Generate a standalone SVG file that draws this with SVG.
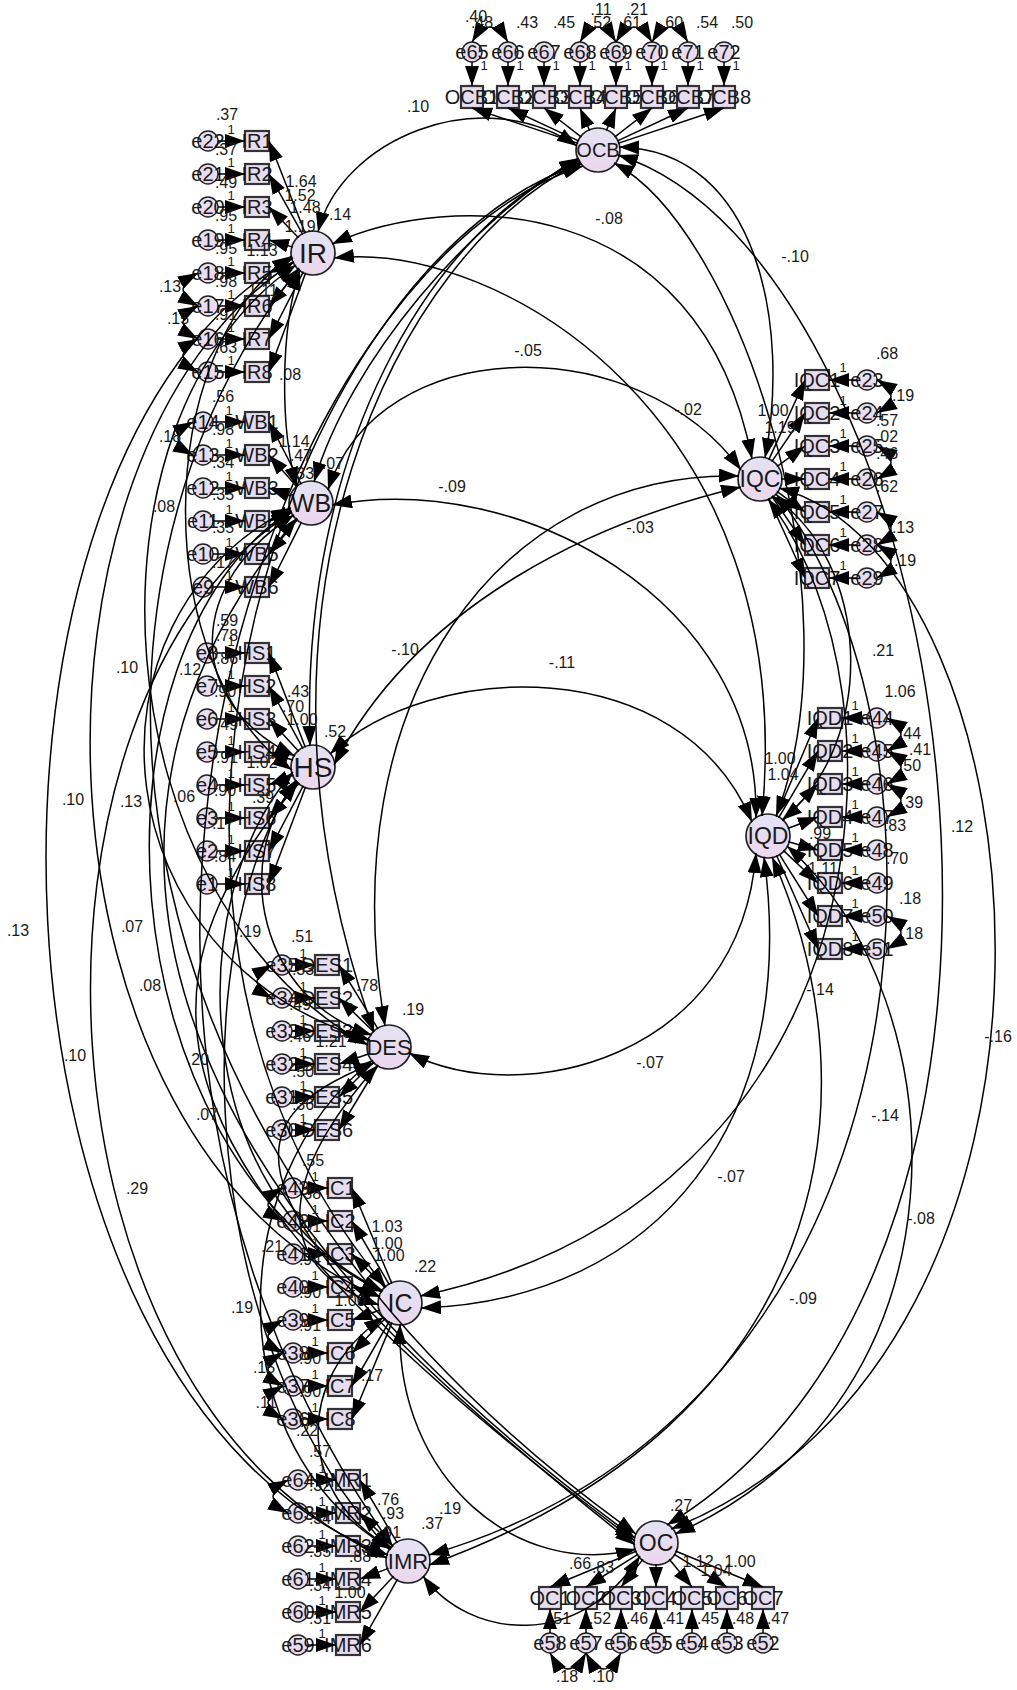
<svg xmlns="http://www.w3.org/2000/svg" width="1017" height="1690" viewBox="0 0 1017 1690">
<defs>
<linearGradient id="g" x1="0" y1="0" x2="0" y2="1"><stop offset="0" stop-color="#e3e3f3"/><stop offset="1" stop-color="#ecd6ee"/></linearGradient>
<marker id="ah" viewBox="0 0 20 14" refX="20" refY="7" markerWidth="20" markerHeight="14" markerUnits="userSpaceOnUse" orient="auto-start-reverse"><path d="M0,0L20,7L0,14z" fill="#000"/></marker>
</defs>
<style>
.lat{fill:url(#g);stroke:#222;stroke-width:1.7}
.err{fill:url(#g);stroke:#222;stroke-width:1.4}
.ind{fill:#e6dcf0;stroke:#333;stroke-width:2.2}
.c{fill:none;stroke:#000;stroke-width:1.5}
.a{marker-end:url(#ah)}
.d{marker-start:url(#ah);marker-end:url(#ah)}
text{font-family:"Liberation Sans",Arial,sans-serif;fill:#1a1a1a;text-anchor:middle}
.il{font-size:20px}
.n{font-size:16px}
.s{font-size:13px}
</style>
<rect width="1017" height="1690" fill="#fff"/>

<g id="nodes">
<g id="OCB"><circle class="lat" cx="598" cy="150" r="22"/><text x="598" y="157" font-size="20">OCB</text></g>
<g id="IR"><circle class="lat" cx="313" cy="253" r="22"/><text x="313" y="263" font-size="28">IR</text></g>
<g id="WB"><circle class="lat" cx="311" cy="503" r="22"/><text x="311" y="512" font-size="25">WB</text></g>
<g id="HS"><circle class="lat" cx="313" cy="767" r="22"/><text x="313" y="777" font-size="28">HS</text></g>
<g id="DES"><circle class="lat" cx="389" cy="1047" r="22"/><text x="389" y="1055" font-size="22">DES</text></g>
<g id="IC"><circle class="lat" cx="400" cy="1303" r="22"/><text x="400" y="1312" font-size="25">IC</text></g>
<g id="IMR"><circle class="lat" cx="408" cy="1561" r="22"/><text x="408" y="1569" font-size="22">IMR</text></g>
<g id="OC"><circle class="lat" cx="656" cy="1543" r="22"/><text x="656" y="1551" font-size="23">OC</text></g>
<g id="IQC"><circle class="lat" cx="760" cy="479" r="22"/><text x="760" y="487" font-size="23">IQC</text></g>
<g id="IQD"><circle class="lat" cx="768" cy="836" r="22"/><text x="768" y="844" font-size="23">IQD</text></g>

<g id="OCB1"><rect class="ind" x="461" y="86" width="22" height="22"/><text class="il" x="472" y="104">OCB1</text></g>
<g id="OCB2"><rect class="ind" x="497" y="86" width="22" height="22"/><text class="il" x="508" y="104">OCB2</text></g>
<g id="OCB3"><rect class="ind" x="533" y="86" width="22" height="22"/><text class="il" x="544" y="104">OCB3</text></g>
<g id="OCB4"><rect class="ind" x="569" y="86" width="22" height="22"/><text class="il" x="580" y="104">OCB4</text></g>
<g id="OCB5"><rect class="ind" x="605" y="86" width="22" height="22"/><text class="il" x="616" y="104">OCB5</text></g>
<g id="OCB6"><rect class="ind" x="641" y="86" width="22" height="22"/><text class="il" x="652" y="104">OCB6</text></g>
<g id="OCB7"><rect class="ind" x="677" y="86" width="22" height="22"/><text class="il" x="688" y="104">OCB7</text></g>
<g id="OCB8"><rect class="ind" x="713" y="86" width="22" height="22"/><text class="il" x="724" y="104">OCB8</text></g>
<g id="e65"><circle class="err" cx="472" cy="52" r="10"/><text class="il" x="472" y="59">e65</text></g>
<g id="e66"><circle class="err" cx="508" cy="52" r="10"/><text class="il" x="508" y="59">e66</text></g>
<g id="e67"><circle class="err" cx="544" cy="52" r="10"/><text class="il" x="544" y="59">e67</text></g>
<g id="e68"><circle class="err" cx="580" cy="52" r="10"/><text class="il" x="580" y="59">e68</text></g>
<g id="e69"><circle class="err" cx="616" cy="52" r="10"/><text class="il" x="616" y="59">e69</text></g>
<g id="e70"><circle class="err" cx="652" cy="52" r="10"/><text class="il" x="652" y="59">e70</text></g>
<g id="e71"><circle class="err" cx="688" cy="52" r="10"/><text class="il" x="688" y="59">e71</text></g>
<g id="e72"><circle class="err" cx="724" cy="52" r="10"/><text class="il" x="724" y="59">e72</text></g>

<g id="IR1"><rect class="ind" x="245" y="131" width="24" height="20"/><text class="il" x="257" y="148">IR1</text></g>
<g id="IR2"><rect class="ind" x="245" y="164" width="24" height="20"/><text class="il" x="257" y="181">IR2</text></g>
<g id="IR3"><rect class="ind" x="245" y="197" width="24" height="20"/><text class="il" x="257" y="214">IR3</text></g>
<g id="IR4"><rect class="ind" x="245" y="230" width="24" height="20"/><text class="il" x="257" y="247">IR4</text></g>
<g id="IR5"><rect class="ind" x="245" y="263" width="24" height="20"/><text class="il" x="257" y="280">IR5</text></g>
<g id="IR6"><rect class="ind" x="245" y="296" width="24" height="20"/><text class="il" x="257" y="313">IR6</text></g>
<g id="IR7"><rect class="ind" x="245" y="329" width="24" height="20"/><text class="il" x="257" y="346">IR7</text></g>
<g id="IR8"><rect class="ind" x="245" y="362" width="24" height="20"/><text class="il" x="257" y="379">IR8</text></g>
<g id="e22"><circle class="err" cx="208" cy="141" r="10"/><text class="il" x="208" y="148">e22</text></g>
<g id="e21"><circle class="err" cx="208" cy="174" r="10"/><text class="il" x="208" y="181">e21</text></g>
<g id="e20"><circle class="err" cx="208" cy="207" r="10"/><text class="il" x="208" y="214">e20</text></g>
<g id="e19"><circle class="err" cx="208" cy="240" r="10"/><text class="il" x="208" y="247">e19</text></g>
<g id="e18"><circle class="err" cx="208" cy="273" r="10"/><text class="il" x="208" y="280">e18</text></g>
<g id="e17"><circle class="err" cx="208" cy="306" r="10"/><text class="il" x="208" y="313">e17</text></g>
<g id="e16"><circle class="err" cx="208" cy="339" r="10"/><text class="il" x="208" y="346">e16</text></g>
<g id="e15"><circle class="err" cx="208" cy="372" r="10"/><text class="il" x="208" y="379">e15</text></g>

<g id="WB1"><rect class="ind" x="245" y="412" width="24" height="20"/><text class="il" x="257" y="429">WB1</text></g>
<g id="WB2"><rect class="ind" x="245" y="445" width="24" height="20"/><text class="il" x="257" y="462">WB2</text></g>
<g id="WB3"><rect class="ind" x="245" y="478" width="24" height="20"/><text class="il" x="257" y="495">WB3</text></g>
<g id="WB4"><rect class="ind" x="245" y="511" width="24" height="20"/><text class="il" x="257" y="528">WB4</text></g>
<g id="WB5"><rect class="ind" x="245" y="544" width="24" height="20"/><text class="il" x="257" y="561">WB5</text></g>
<g id="WB6"><rect class="ind" x="245" y="577" width="24" height="20"/><text class="il" x="257" y="594">WB6</text></g>
<g id="e14"><circle class="err" cx="203" cy="422" r="10"/><text class="il" x="203" y="429">e14</text></g>
<g id="e13"><circle class="err" cx="203" cy="455" r="10"/><text class="il" x="203" y="462">e13</text></g>
<g id="e12"><circle class="err" cx="203" cy="488" r="10"/><text class="il" x="203" y="495">e12</text></g>
<g id="e11"><circle class="err" cx="203" cy="521" r="10"/><text class="il" x="203" y="528">e11</text></g>
<g id="e10"><circle class="err" cx="203" cy="554" r="10"/><text class="il" x="203" y="561">e10</text></g>
<g id="e9"><circle class="err" cx="203" cy="587" r="10"/><text class="il" x="203" y="594">e9</text></g>

<g id="HS1"><rect class="ind" x="245" y="643" width="24" height="20"/><text class="il" x="257" y="660">HS1</text></g>
<g id="HS2"><rect class="ind" x="245" y="676" width="24" height="20"/><text class="il" x="257" y="693">HS2</text></g>
<g id="HS3"><rect class="ind" x="245" y="709" width="24" height="20"/><text class="il" x="257" y="726">HS3</text></g>
<g id="HS4"><rect class="ind" x="245" y="742" width="24" height="20"/><text class="il" x="257" y="759">HS4</text></g>
<g id="HS5"><rect class="ind" x="245" y="775" width="24" height="20"/><text class="il" x="257" y="792">HS5</text></g>
<g id="HS6"><rect class="ind" x="245" y="808" width="24" height="20"/><text class="il" x="257" y="825">HS6</text></g>
<g id="HS7"><rect class="ind" x="245" y="841" width="24" height="20"/><text class="il" x="257" y="858">HS7</text></g>
<g id="HS8"><rect class="ind" x="245" y="874" width="24" height="20"/><text class="il" x="257" y="891">HS8</text></g>
<g id="e8"><circle class="err" cx="207" cy="653" r="10"/><text class="il" x="207" y="660">e8</text></g>
<g id="e7"><circle class="err" cx="207" cy="686" r="10"/><text class="il" x="207" y="693">e7</text></g>
<g id="e6"><circle class="err" cx="207" cy="719" r="10"/><text class="il" x="207" y="726">e6</text></g>
<g id="e5"><circle class="err" cx="207" cy="752" r="10"/><text class="il" x="207" y="759">e5</text></g>
<g id="e4"><circle class="err" cx="207" cy="785" r="10"/><text class="il" x="207" y="792">e4</text></g>
<g id="e3"><circle class="err" cx="207" cy="818" r="10"/><text class="il" x="207" y="825">e3</text></g>
<g id="e2"><circle class="err" cx="207" cy="851" r="10"/><text class="il" x="207" y="858">e2</text></g>
<g id="e1"><circle class="err" cx="207" cy="884" r="10"/><text class="il" x="207" y="891">e1</text></g>

<g id="DES1"><rect class="ind" x="315" y="955" width="24" height="20"/><text class="il" x="327" y="972">DES1</text></g>
<g id="DES2"><rect class="ind" x="315" y="988" width="24" height="20"/><text class="il" x="327" y="1005">DES2</text></g>
<g id="DES3"><rect class="ind" x="315" y="1021" width="24" height="20"/><text class="il" x="327" y="1038">DES3</text></g>
<g id="DES4"><rect class="ind" x="315" y="1054" width="24" height="20"/><text class="il" x="327" y="1071">DES4</text></g>
<g id="DES5"><rect class="ind" x="315" y="1087" width="24" height="20"/><text class="il" x="327" y="1104">DES5</text></g>
<g id="DES6"><rect class="ind" x="315" y="1120" width="24" height="20"/><text class="il" x="327" y="1137">DES6</text></g>
<g id="e35"><circle class="err" cx="282" cy="965" r="10"/><text class="il" x="282" y="972">e35</text></g>
<g id="e34"><circle class="err" cx="282" cy="998" r="10"/><text class="il" x="282" y="1005">e34</text></g>
<g id="e33"><circle class="err" cx="282" cy="1031" r="10"/><text class="il" x="282" y="1038">e33</text></g>
<g id="e32"><circle class="err" cx="282" cy="1064" r="10"/><text class="il" x="282" y="1071">e32</text></g>
<g id="e31"><circle class="err" cx="282" cy="1097" r="10"/><text class="il" x="282" y="1104">e31</text></g>
<g id="e30"><circle class="err" cx="282" cy="1130" r="10"/><text class="il" x="282" y="1137">e30</text></g>

<g id="IC1"><rect class="ind" x="328" y="1178" width="24" height="20"/><text class="il" x="340" y="1195">IC1</text></g>
<g id="IC2"><rect class="ind" x="328" y="1211" width="24" height="20"/><text class="il" x="340" y="1228">IC2</text></g>
<g id="IC3"><rect class="ind" x="328" y="1244" width="24" height="20"/><text class="il" x="340" y="1261">IC3</text></g>
<g id="IC4"><rect class="ind" x="328" y="1277" width="24" height="20"/><text class="il" x="340" y="1294">IC4</text></g>
<g id="IC5"><rect class="ind" x="328" y="1310" width="24" height="20"/><text class="il" x="340" y="1327">IC5</text></g>
<g id="IC6"><rect class="ind" x="328" y="1343" width="24" height="20"/><text class="il" x="340" y="1360">IC6</text></g>
<g id="IC7"><rect class="ind" x="328" y="1376" width="24" height="20"/><text class="il" x="340" y="1393">IC7</text></g>
<g id="IC8"><rect class="ind" x="328" y="1409" width="24" height="20"/><text class="il" x="340" y="1426">IC8</text></g>
<g id="e43"><circle class="err" cx="293" cy="1188" r="10"/><text class="il" x="293" y="1195">e43</text></g>
<g id="e42"><circle class="err" cx="293" cy="1221" r="10"/><text class="il" x="293" y="1228">e42</text></g>
<g id="e41"><circle class="err" cx="293" cy="1254" r="10"/><text class="il" x="293" y="1261">e41</text></g>
<g id="e40"><circle class="err" cx="293" cy="1287" r="10"/><text class="il" x="293" y="1294">e40</text></g>
<g id="e39"><circle class="err" cx="293" cy="1320" r="10"/><text class="il" x="293" y="1327">e39</text></g>
<g id="e38"><circle class="err" cx="293" cy="1353" r="10"/><text class="il" x="293" y="1360">e38</text></g>
<g id="e37"><circle class="err" cx="293" cy="1386" r="10"/><text class="il" x="293" y="1393">e37</text></g>
<g id="e36"><circle class="err" cx="293" cy="1419" r="10"/><text class="il" x="293" y="1426">e36</text></g>

<g id="IMR1"><rect class="ind" x="336" y="1470" width="24" height="20"/><text class="il" x="348" y="1487">IMR1</text></g>
<g id="IMR2"><rect class="ind" x="336" y="1503" width="24" height="20"/><text class="il" x="348" y="1520">IMR2</text></g>
<g id="IMR3"><rect class="ind" x="336" y="1536" width="24" height="20"/><text class="il" x="348" y="1553">IMR3</text></g>
<g id="IMR4"><rect class="ind" x="336" y="1569" width="24" height="20"/><text class="il" x="348" y="1586">IMR4</text></g>
<g id="IMR5"><rect class="ind" x="336" y="1602" width="24" height="20"/><text class="il" x="348" y="1619">IMR5</text></g>
<g id="IMR6"><rect class="ind" x="336" y="1635" width="24" height="20"/><text class="il" x="348" y="1652">IMR6</text></g>
<g id="e64"><circle class="err" cx="298" cy="1480" r="10"/><text class="il" x="298" y="1487">e64</text></g>
<g id="e63"><circle class="err" cx="298" cy="1513" r="10"/><text class="il" x="298" y="1520">e63</text></g>
<g id="e62"><circle class="err" cx="298" cy="1546" r="10"/><text class="il" x="298" y="1553">e62</text></g>
<g id="e61"><circle class="err" cx="298" cy="1579" r="10"/><text class="il" x="298" y="1586">e61</text></g>
<g id="e60"><circle class="err" cx="298" cy="1612" r="10"/><text class="il" x="298" y="1619">e60</text></g>
<g id="e59"><circle class="err" cx="298" cy="1645" r="10"/><text class="il" x="298" y="1652">e59</text></g>

<g id="IQC1"><rect class="ind" x="805" y="370" width="24" height="20"/><text class="il" x="817" y="387">IQC1</text></g>
<g id="IQC2"><rect class="ind" x="805" y="403" width="24" height="20"/><text class="il" x="817" y="420">IQC2</text></g>
<g id="IQC3"><rect class="ind" x="805" y="436" width="24" height="20"/><text class="il" x="817" y="453">IQC3</text></g>
<g id="IQC4"><rect class="ind" x="805" y="469" width="24" height="20"/><text class="il" x="817" y="486">IQC4</text></g>
<g id="IQC5"><rect class="ind" x="805" y="502" width="24" height="20"/><text class="il" x="817" y="519">IQC5</text></g>
<g id="IQC6"><rect class="ind" x="805" y="535" width="24" height="20"/><text class="il" x="817" y="552">IQC6</text></g>
<g id="IQC7"><rect class="ind" x="805" y="568" width="24" height="20"/><text class="il" x="817" y="585">IQC7</text></g>
<g id="e23"><circle class="err" cx="867" cy="380" r="10"/><text class="il" x="867" y="387">e23</text></g>
<g id="e24"><circle class="err" cx="867" cy="413" r="10"/><text class="il" x="867" y="420">e24</text></g>
<g id="e25"><circle class="err" cx="867" cy="446" r="10"/><text class="il" x="867" y="453">e25</text></g>
<g id="e26"><circle class="err" cx="867" cy="479" r="10"/><text class="il" x="867" y="486">e26</text></g>
<g id="e27"><circle class="err" cx="867" cy="512" r="10"/><text class="il" x="867" y="519">e27</text></g>
<g id="e28"><circle class="err" cx="867" cy="545" r="10"/><text class="il" x="867" y="552">e28</text></g>
<g id="e29"><circle class="err" cx="867" cy="578" r="10"/><text class="il" x="867" y="585">e29</text></g>

<g id="IQD1"><rect class="ind" x="818" y="708" width="24" height="20"/><text class="il" x="830" y="725">IQD1</text></g>
<g id="IQD2"><rect class="ind" x="818" y="741" width="24" height="20"/><text class="il" x="830" y="758">IQD2</text></g>
<g id="IQD3"><rect class="ind" x="818" y="774" width="24" height="20"/><text class="il" x="830" y="791">IQD3</text></g>
<g id="IQD4"><rect class="ind" x="818" y="807" width="24" height="20"/><text class="il" x="830" y="824">IQD4</text></g>
<g id="IQD5"><rect class="ind" x="818" y="840" width="24" height="20"/><text class="il" x="830" y="857">IQD5</text></g>
<g id="IQD6"><rect class="ind" x="818" y="873" width="24" height="20"/><text class="il" x="830" y="890">IQD6</text></g>
<g id="IQD7"><rect class="ind" x="818" y="906" width="24" height="20"/><text class="il" x="830" y="923">IQD7</text></g>
<g id="IQD8"><rect class="ind" x="818" y="939" width="24" height="20"/><text class="il" x="830" y="956">IQD8</text></g>
<g id="e44"><circle class="err" cx="877" cy="718" r="10"/><text class="il" x="877" y="725">e44</text></g>
<g id="e45"><circle class="err" cx="877" cy="751" r="10"/><text class="il" x="877" y="758">e45</text></g>
<g id="e46"><circle class="err" cx="877" cy="784" r="10"/><text class="il" x="877" y="791">e46</text></g>
<g id="e47"><circle class="err" cx="877" cy="817" r="10"/><text class="il" x="877" y="824">e47</text></g>
<g id="e48"><circle class="err" cx="877" cy="850" r="10"/><text class="il" x="877" y="857">e48</text></g>
<g id="e49"><circle class="err" cx="877" cy="883" r="10"/><text class="il" x="877" y="890">e49</text></g>
<g id="e50"><circle class="err" cx="877" cy="916" r="10"/><text class="il" x="877" y="923">e50</text></g>
<g id="e51"><circle class="err" cx="877" cy="949" r="10"/><text class="il" x="877" y="956">e51</text></g>

<g id="OC1"><rect class="ind" x="539" y="1587" width="22" height="22"/><text class="il" x="550" y="1605">OC1</text></g>
<g id="OC2"><rect class="ind" x="575" y="1587" width="22" height="22"/><text class="il" x="586" y="1605">OC2</text></g>
<g id="OC3"><rect class="ind" x="610" y="1587" width="22" height="22"/><text class="il" x="621" y="1605">OC3</text></g>
<g id="OC4"><rect class="ind" x="645" y="1587" width="22" height="22"/><text class="il" x="656" y="1605">OC4</text></g>
<g id="OC5"><rect class="ind" x="681" y="1587" width="22" height="22"/><text class="il" x="692" y="1605">OC5</text></g>
<g id="OC6"><rect class="ind" x="716" y="1587" width="22" height="22"/><text class="il" x="727" y="1605">OC6</text></g>
<g id="OC7"><rect class="ind" x="752" y="1587" width="22" height="22"/><text class="il" x="763" y="1605">OC7</text></g>
<g id="e58"><circle class="err" cx="550" cy="1643" r="10"/><text class="il" x="550" y="1650">e58</text></g>
<g id="e57"><circle class="err" cx="586" cy="1643" r="10"/><text class="il" x="586" y="1650">e57</text></g>
<g id="e56"><circle class="err" cx="621" cy="1643" r="10"/><text class="il" x="621" y="1650">e56</text></g>
<g id="e55"><circle class="err" cx="656" cy="1643" r="10"/><text class="il" x="656" y="1650">e55</text></g>
<g id="e54"><circle class="err" cx="692" cy="1643" r="10"/><text class="il" x="692" y="1650">e54</text></g>
<g id="e53"><circle class="err" cx="727" cy="1643" r="10"/><text class="il" x="727" y="1650">e53</text></g>
<g id="e52"><circle class="err" cx="763" cy="1643" r="10"/><text class="il" x="763" y="1650">e52</text></g>
</g>

<g id="connectors" class="c">
<g class="a">
<path d="M472,62V86"/><path d="M508,62V86"/><path d="M544,62V86"/><path d="M580,62V86"/><path d="M616,62V86"/><path d="M652,62V86"/><path d="M688,62V86"/><path d="M724,62V86"/>
<path d="M218,141H245"/><path d="M218,174H245"/><path d="M218,207H245"/><path d="M218,240H245"/><path d="M218,273H245"/><path d="M218,306H245"/><path d="M218,339H245"/><path d="M218,372H245"/>
<path d="M213,422H245"/><path d="M213,455H245"/><path d="M213,488H245"/><path d="M213,521H245"/><path d="M213,554H245"/><path d="M213,587H245"/>
<path d="M217,653H245"/><path d="M217,686H245"/><path d="M217,719H245"/><path d="M217,752H245"/><path d="M217,785H245"/><path d="M217,818H245"/><path d="M217,851H245"/><path d="M217,884H245"/>
<path d="M292,965H315"/><path d="M292,998H315"/><path d="M292,1031H315"/><path d="M292,1064H315"/><path d="M292,1097H315"/><path d="M292,1130H315"/>
<path d="M303,1188H328"/><path d="M303,1221H328"/><path d="M303,1254H328"/><path d="M303,1287H328"/><path d="M303,1320H328"/><path d="M303,1353H328"/><path d="M303,1386H328"/><path d="M303,1419H328"/>
<path d="M308,1480H336"/><path d="M308,1513H336"/><path d="M308,1546H336"/><path d="M308,1579H336"/><path d="M308,1612H336"/><path d="M308,1645H336"/>
<path d="M857,380H829"/><path d="M857,413H829"/><path d="M857,446H829"/><path d="M857,479H829"/><path d="M857,512H829"/><path d="M857,545H829"/><path d="M857,578H829"/>
<path d="M867,718H842"/><path d="M867,751H842"/><path d="M867,784H842"/><path d="M867,817H842"/><path d="M867,850H842"/><path d="M867,883H842"/><path d="M867,916H842"/><path d="M867,949H842"/>
<path d="M550,1633V1609"/><path d="M586,1633V1609"/><path d="M621,1633V1609"/><path d="M656,1633V1609"/><path d="M692,1633V1609"/><path d="M727,1633V1609"/><path d="M763,1633V1609"/>
<path d="M578.1,143.4L472,108"/><path d="M579,141.1L508,108"/><path d="M581.4,137.1L544,108"/><path d="M589.7,130.7L580,108"/><path d="M606.3,130.7L616,108"/><path d="M614.6,137.1L652,108"/><path d="M617,141.1L688,108"/><path d="M617.9,143.4L724,108"/>
<path d="M305.3,233.4L269,141"/><path d="M302.8,234.6L269,174"/><path d="M298.5,237.8L269,207"/><path d="M292.9,247.1L269,240"/><path d="M293.9,261.7L269,273"/><path d="M299.6,269.2L269,306"/><path d="M303.4,271.7L269,339"/><path d="M305.7,272.7L269,372"/>
<path d="M301.3,484.3L269,422"/><path d="M297.2,487.2L269,455"/><path d="M291.2,495.9L269,488"/><path d="M291.7,511.3L269,521"/><path d="M297.7,519.2L269,554"/><path d="M301.6,521.8L269,587"/>
<path d="M305.4,747.4L269,653"/><path d="M303,748.6L269,686"/><path d="M298.8,751.5L269,719"/><path d="M293.1,760.2L269,752"/><path d="M293.5,775L269,785"/><path d="M299.3,782.9L269,818"/><path d="M303.3,785.6L269,851"/><path d="M305.6,786.7L269,884"/>
<path d="M378.1,1029.1L339,965"/><path d="M374,1032.3L339,998"/><path d="M369,1040.6L339,1031"/><path d="M369.1,1053.8L339,1064"/><path d="M374.2,1061.8L339,1097"/><path d="M378.2,1065L339,1130"/>
<path d="M391.9,1283.6L352,1188"/><path d="M389.4,1284.9L352,1221"/><path d="M385.3,1288L352,1254"/><path d="M380.1,1296.4L352,1287"/><path d="M380.2,1310L352,1320"/><path d="M385.5,1318.2L352,1353"/><path d="M389.5,1321.2L352,1386"/><path d="M392,1322.4L352,1419"/>
<path d="M397.3,1542.9L360,1480"/><path d="M393.2,1546.2L360,1513"/><path d="M388,1554.7L360,1546"/><path d="M388.4,1568.4L360,1579"/><path d="M393.6,1576.3L360,1612"/><path d="M397.6,1579.2L360,1645"/>
<path d="M768.7,459.9L805,380"/><path d="M771.8,461.7L805,413"/><path d="M776.9,466.6L805,446"/><path d="M781,479L805,479"/><path d="M776.9,491.4L805,512"/><path d="M771.8,496.3L805,545"/><path d="M768.7,498.1L805,578"/>
<path d="M776.2,816.7L818,718"/><path d="M778.6,817.9L818,751"/><path d="M782.6,820.9L818,784"/><path d="M787.6,828.5L818,817"/><path d="M788.2,841.7L818,850"/><path d="M783.3,850.4L818,883"/><path d="M779.1,853.8L818,916"/><path d="M776.5,855.2L818,949"/>
<path d="M636.6,1551L550,1587"/><path d="M638.2,1554.2L586,1587"/><path d="M642.9,1559.4L621,1587"/><path d="M656,1564L656,1587"/><path d="M669.3,1559.3L692,1587"/><path d="M673.9,1554.1L727,1587"/><path d="M675.4,1551L763,1587"/>
</g>
<g class="d">
<path d="M472,42Q490,12 508,42"/>
<path d="M580,42Q598,12 616,42"/>
<path d="M616,42Q634,12 652,42"/>
<path d="M652,42Q670,12 688,42"/>
<path d="M550,1653Q568,1685 586,1653"/>
<path d="M586,1653Q603,1685 621,1653"/>
<path d="M877,380Q905,396.5 877,413"/>
<path d="M877,446Q905,462.5 877,479"/>
<path d="M877,512Q905,528.5 877,545"/>
<path d="M877,545Q905,561.5 877,578"/>
<path d="M887,718Q915,734.5 887,751"/>
<path d="M887,751Q915,767.5 887,784"/>
<path d="M887,784Q915,800.5 887,817"/>
<path d="M887,916Q915,932.5 887,949"/>
<path d="M198,273Q168,289.5 198,306"/>
<path d="M198,306Q168,322.5 198,339"/>
<path d="M198,339Q168,355.5 198,372"/>
<path d="M193,422Q163,438.5 193,455"/>
<path d="M272,965Q242,981.5 272,998"/>
<path d="M283,1188Q253,1204.5 283,1221"/>
<path d="M283,1320Q253,1336.5 283,1353"/>
<path d="M283,1353Q253,1369.5 283,1386"/>
<path d="M283,1386Q253,1402.5 283,1419"/>
<path d="M288,1480Q258,1496.5 288,1513"/>
<path d="M577,146C480,80 340,140 318,232"/>
<path d="M332,244C450,190 700,190 752,459"/>
<path d="M334,258C500,240 800,420 762,816"/>
<path d="M619,147C760,150 790,330 765,458"/>
<path d="M614,163C740,230 860,600 776,816"/>
<path d="M618,155C950,260 1120,1250 667,1525"/>
<path d="M779,488C1050,560 1120,1350 671,1529"/>
<path d="M772,496C870,560 880,740 782,820"/>
<path d="M787,846C960,1000 980,1400 675,1534"/>
<path d="M776,494C960,720 960,1400 429,1555"/>
<path d="M772,857C880,1100 830,1420 429,1565"/>
<path d="M768,499C920,700 880,1200 420,1296"/>
<path d="M756,853C740,1060 520,1110 409,1053"/>
<path d="M764,857C800,1120 660,1300 421,1308"/>
<path d="M328,490C380,330 640,330 741,470"/>
<path d="M332,505C520,470 760,600 756,818"/>
<path d="M334,765C420,600 600,520 741,487"/>
<path d="M385,1026C330,700 500,470 739,476"/>
<path d="M330,754C430,660 680,650 752,822"/>
<path d="M300,270C280,330 280,430 297,487"/>
<path d="M292,256C150,350 150,670 292,770"/>
<path d="M296,265C70,420 100,900 368,1045"/>
<path d="M294,262C0,450 20,1150 380,1297"/>
<path d="M293,258C-60,450 -40,1400 388,1555"/>
<path d="M294,515C190,580 180,700 295,756"/>
<path d="M291,508C70,620 100,960 370,1040"/>
<path d="M291,510C80,650 100,1150 382,1292"/>
<path d="M292,512C0,700 20,1400 387,1558"/>
<path d="M297,781C230,860 260,1000 372,1035"/>
<path d="M293,772C180,900 190,1200 383,1291"/>
<path d="M296,780C180,950 200,1350 390,1550"/>
<path d="M378,1065C300,1150 250,1260 379,1305"/>
<path d="M373,1060C220,1180 220,1450 391,1549"/>
<path d="M384,1317C290,1380 300,1500 392,1548"/>
<path d="M579,158C470,220 350,360 314,482"/>
<path d="M580,160C430,230 300,450 310,746"/>
<path d="M581,162C400,250 220,600 374,1032"/>
<path d="M582,164C300,250 60,900 386,1287"/>
<path d="M583,166C280,260 0,1000 393,1547"/>
<path d="M636,1534C100,1150 40,600 299,268"/>
<path d="M635,1538C120,1160 60,800 297,518"/>
<path d="M635,1541C140,1170 120,1000 298,782"/>
<path d="M635,1545C200,1200 230,1120 374,1063"/>
<path d="M636,1549C520,1580 395,1480 400,1324"/>
<path d="M640,1556C580,1650 470,1640 423,1576"/>
</g>
</g>

<g id="labels">
<g class="s">
<text x="484" y="70">1</text><text x="520" y="70">1</text><text x="556" y="70">1</text><text x="592" y="70">1</text><text x="628" y="70">1</text><text x="664" y="70">1</text><text x="700" y="70">1</text><text x="736" y="70">1</text>
<text x="231" y="134">1</text><text x="231" y="167">1</text><text x="231" y="200">1</text><text x="231" y="233">1</text><text x="231" y="266">1</text><text x="231" y="299">1</text><text x="231" y="332">1</text><text x="231" y="365">1</text>
<text x="229" y="415">1</text><text x="229" y="448">1</text><text x="229" y="481">1</text><text x="229" y="514">1</text><text x="229" y="547">1</text><text x="229" y="580">1</text>
<text x="231" y="646">1</text><text x="231" y="679">1</text><text x="231" y="712">1</text><text x="231" y="745">1</text><text x="231" y="778">1</text><text x="231" y="811">1</text><text x="231" y="844">1</text><text x="231" y="877">1</text>
<text x="303" y="958">1</text><text x="303" y="991">1</text><text x="303" y="1024">1</text><text x="303" y="1057">1</text><text x="303" y="1090">1</text><text x="303" y="1123">1</text>
<text x="315" y="1181">1</text><text x="315" y="1214">1</text><text x="315" y="1247">1</text><text x="315" y="1280">1</text><text x="315" y="1313">1</text><text x="315" y="1346">1</text><text x="315" y="1379">1</text><text x="315" y="1412">1</text>
<text x="322" y="1473">1</text><text x="322" y="1506">1</text><text x="322" y="1539">1</text><text x="322" y="1572">1</text><text x="322" y="1605">1</text><text x="322" y="1638">1</text>
<text x="843" y="372">1</text><text x="843" y="405">1</text><text x="843" y="438">1</text><text x="843" y="471">1</text><text x="843" y="504">1</text><text x="843" y="537">1</text><text x="843" y="570">1</text>
<text x="855" y="710">1</text><text x="855" y="743">1</text><text x="855" y="776">1</text><text x="855" y="809">1</text><text x="855" y="842">1</text><text x="855" y="875">1</text><text x="855" y="908">1</text><text x="855" y="941">1</text>
</g>
<g class="n">
<text x="418" y="112">.10</text>
<text x="609" y="224">-.08</text>
<text x="688" y="415">-.02</text>
<text x="795" y="262">-.10</text>
<text x="883" y="656">.21</text>
<text x="962" y="832">.12</text>
<text x="998" y="1042">-.16</text>
<text x="921" y="1224">-.08</text>
<text x="820" y="995">-.14</text>
<text x="885" y="1121">-.14</text>
<text x="803" y="1304">-.09</text>
<text x="731" y="1182">-.07</text>
<text x="650" y="1068">-.07</text>
<text x="528" y="356">-.05</text>
<text x="452" y="492">-.09</text>
<text x="640" y="533">-.03</text>
<text x="405" y="655">-.10</text>
<text x="562" y="668">-.11</text>
<text x="290" y="380">.08</text>
<text x="164" y="512">.08</text>
<text x="127" y="673">.10</text>
<text x="73" y="805">.10</text>
<text x="18" y="936">.13</text>
<text x="190" y="675">.12</text>
<text x="131" y="807">.13</text>
<text x="132" y="932">.07</text>
<text x="75" y="1061">.10</text>
<text x="250" y="937">.19</text>
<text x="198" y="1065">.20</text>
<text x="207" y="1120">.07</text>
<text x="272" y="1252">.21</text>
<text x="242" y="1313">.19</text>
<text x="307" y="1436">.22</text>
<text x="150" y="991">.08</text>
<text x="137" y="1194">.29</text>
<text x="184" y="802">.06</text>
<text x="340" y="220">.14</text>
<text x="333" y="469">.07</text>
<text x="335" y="737">.52</text>
<text x="413" y="1015">.19</text>
<text x="425" y="1272">.22</text>
<text x="432" y="1529">.37</text>
<text x="450" y="1514">.19</text>
<text x="681" y="1511">.27</text>
<text x="476" y="22">.40</text><text x="482" y="28">.48</text><text x="527" y="28">.43</text><text x="564" y="28">.45</text><text x="600" y="28">.52</text><text x="601" y="15">.11</text><text x="637" y="15">.21</text><text x="630" y="28">.61</text><text x="672" y="28">.60</text><text x="707" y="28">.54</text><text x="742" y="28">.50</text>
<text x="227" y="120">.37</text><text x="226" y="155">.37</text><text x="226" y="188">.49</text><text x="226" y="221">.95</text><text x="226" y="254">.95</text><text x="226" y="287">.98</text><text x="226" y="320">.91</text><text x="226" y="353">.63</text>
<text x="170" y="292">.13</text><text x="178" y="324">.15</text>
<text x="223" y="402">.56</text><text x="223" y="435">.98</text><text x="223" y="468">.34</text><text x="223" y="500">.35</text><text x="223" y="533">.35</text><text x="223" y="568">.17</text>
<text x="170" y="442">.18</text>
<text x="227" y="626">.59</text><text x="227" y="641">.78</text><text x="227" y="664">.86</text><text x="225" y="697">.90</text><text x="227" y="730">.49</text><text x="227" y="763">.91</text><text x="225" y="796">.90</text><text x="223" y="829">.17</text><text x="225" y="862">.84</text>
<text x="302" y="942">.51</text><text x="303" y="975">.33</text><text x="300" y="1010">.49</text><text x="300" y="1042">.46</text><text x="303" y="1077">.50</text><text x="303" y="1110">.36</text>
<text x="313" y="1166">.55</text><text x="310" y="1199">.38</text><text x="310" y="1232">.91</text><text x="310" y="1265">.94</text><text x="310" y="1298">.90</text><text x="310" y="1331">.91</text><text x="310" y="1364">.90</text><text x="310" y="1397">.90</text>
<text x="264" y="1373">.15</text><text x="266" y="1408">.11</text>
<text x="320" y="1457">.57</text><text x="320" y="1491">.32</text><text x="320" y="1524">.34</text><text x="320" y="1557">.35</text><text x="320" y="1591">.34</text><text x="320" y="1624">.31</text>
<text x="887" y="359">.68</text><text x="903" y="401">.19</text><text x="887" y="426">.57</text><text x="887" y="442">.02</text><text x="887" y="459">.46</text><text x="887" y="492">.62</text><text x="903" y="533">.13</text><text x="905" y="566">.19</text>
<text x="900" y="697">1.06</text><text x="910" y="739">.44</text><text x="920" y="755">.41</text><text x="910" y="771">.50</text><text x="912" y="808">.39</text><text x="895" y="831">.83</text><text x="897" y="864">.70</text><text x="910" y="904">.18</text><text x="912" y="939">.18</text>
<text x="560" y="1624">.51</text><text x="600" y="1624">.52</text><text x="637" y="1624">.46</text><text x="673" y="1624">.41</text><text x="708" y="1624">.45</text><text x="743" y="1624">.48</text><text x="778" y="1624">.47</text>
<text x="567" y="1682">.18</text><text x="603" y="1682">.10</text>
<text x="301" y="187">1.64</text><text x="300" y="201">1.52</text><text x="305" y="213">1.48</text><text x="300" y="232">1.19</text><text x="262" y="256">1.13</text><text x="263" y="296">1.11</text>
<text x="294" y="447">1.14</text><text x="301" y="461">.47</text><text x="303" y="479">.33</text>
<text x="298" y="697">.43</text><text x="293" y="712">.70</text><text x="302" y="725">1.00</text><text x="262" y="768">1.02</text><text x="263" y="803">.39</text>
<text x="367" y="991">.78</text><text x="331" y="1047">1.21</text>
<text x="387" y="1232">1.03</text><text x="387" y="1249">1.00</text><text x="389" y="1261">1.00</text><text x="350" y="1306">1.00</text><text x="372" y="1381">.17</text>
<text x="388" y="1505">.76</text><text x="393" y="1519">.93</text><text x="390" y="1538">.91</text><text x="360" y="1562">.88</text><text x="350" y="1598">1.00</text>
<text x="580" y="1569">.66</text><text x="603" y="1573">.83</text><text x="698" y="1567">1.12</text><text x="716" y="1576">1.04</text><text x="740" y="1567">1.00</text>
<text x="773" y="416">1.00</text><text x="780" y="433">1.19</text>
<text x="780" y="764">1.00</text><text x="783" y="780">1.04</text><text x="820" y="839">.99</text><text x="823" y="874">1.11</text>
</g>
</g>
</svg>
